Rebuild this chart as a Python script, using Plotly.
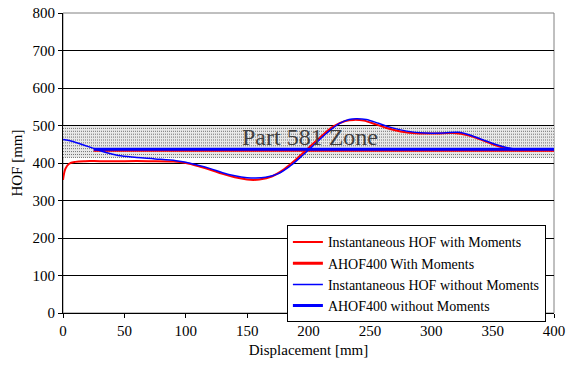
import plotly.graph_objects as go

# Instantaneous height-of-fall curves along the displacement axis
disp_with = [0, 2, 5, 10, 18, 30, 50, 70, 90, 100, 110, 120, 130, 140, 150, 155, 160, 170,
             180, 190, 200, 210, 220, 230, 237, 245, 255, 265, 275, 290, 305, 318, 330, 340,
             350, 360, 370, 380, 400]
hof_with = [355, 385, 398, 403, 405, 405, 405, 405, 404, 400, 392, 382, 371, 362, 356, 355, 356, 364,
            383, 410, 440, 470, 497, 512, 515, 513, 503, 492, 484, 479, 479, 480, 474, 463,
            450, 440, 435, 434, 434]

disp_without = [0, 5, 15, 25, 35, 45, 60, 75, 92, 100, 110, 120, 130, 140, 150, 157, 165, 175,
                185, 195, 205, 215, 225, 233, 239, 247, 257, 267, 280, 295, 310, 322, 332, 342,
                352, 362, 370, 380, 400]
hof_without = [463, 460, 450, 439, 428, 420, 415, 411, 406, 402, 394, 385, 374, 366, 361, 360, 362, 371,
               392, 420, 450, 480, 505, 516, 518, 516, 506, 495, 485, 480, 480, 482, 474, 462,
               450, 441, 437, 437, 437]

# AHOF400 averages, drawn over the averaging window
ahof_range = [25, 400]
ahof_with = 434
ahof_without = 437

# Part 581 zone limits and axis ticks
zone_low, zone_high = 415, 500
x_ticks = [0, 50, 100, 150, 200, 250, 300, 350, 400]
y_ticks = [0, 100, 200, 300, 400, 500, 600, 700, 800]

FONT = "Liberation Serif"

fig = go.Figure()

# zone hatch: light band with rows of dotted grey lines
shapes = [dict(type="rect", xref="x", yref="y", x0=0, x1=400, y0=zone_low, y1=zone_high,
               fillcolor="#e8e8e8", line=dict(width=0), layer="below")]
n_rows = 12
for i in range(n_rows):
    yv = zone_high - i * (zone_high - zone_low) / (n_rows - 1)
    shapes.append(dict(type="line", xref="x", yref="y", x0=0, x1=400, y0=yv, y1=yv,
                       line=dict(color="#707070", width=1, dash="1px,1px"), layer="below"))
# plot frame
shapes.append(dict(type="rect", xref="paper", yref="paper", x0=0, x1=1, y0=0, y1=1,
                   line=dict(color="#808080", width=1), layer="below"))

fig.add_trace(go.Scatter(x=disp_with, y=hof_with, mode="lines", line=dict(color="#ff0000", width=2, shape="spline"),
                         name="Instantaneous HOF with Moments"))
fig.add_trace(go.Scatter(x=ahof_range, y=[ahof_with] * 2, mode="lines", line=dict(color="#ff0000", width=3),
                         name="AHOF400 With Moments"))
fig.add_trace(go.Scatter(x=disp_without, y=hof_without, mode="lines", line=dict(color="#0000ff", width=1.5, shape="spline"),
                         name="Instantaneous HOF without Moments"))
fig.add_trace(go.Scatter(x=ahof_range, y=[ahof_without] * 2, mode="lines", line=dict(color="#0000ff", width=3),
                         name="AHOF400 without Moments"))

fig.add_annotation(x=201, y=470, xref="x", yref="y", text="Part 581 Zone", showarrow=False,
                   font=dict(family=FONT, size=24, color="#404040"))

fig.update_layout(
    width=568, height=366,
    margin=dict(l=63, r=14, t=13, b=53),
    paper_bgcolor="white", plot_bgcolor="rgba(0,0,0,0)",
    font=dict(family=FONT, size=15, color="black"),
    shapes=shapes,
    showlegend=True,
    legend=dict(x=0.456, y=0.292, xanchor="left", yanchor="top", bgcolor="white",
                bordercolor="black", borderwidth=1, font=dict(family=FONT, size=14, color="black"),
                itemwidth=30, tracegroupgap=0),
    xaxis=dict(range=[0, 400], tickvals=x_ticks, showgrid=False, zeroline=False, automargin=False,
               showline=True, linecolor="black", linewidth=1, ticks="outside", ticklen=4,
               tickcolor="black", tickfont=dict(family=FONT, size=15, color="black"),
               title=dict(text="Displacement [mm]", font=dict(family=FONT, size=15, color="black"), standoff=6)),
    yaxis=dict(range=[0, 800], tickvals=y_ticks, showgrid=True, gridcolor="black", gridwidth=1,
               zeroline=False, showline=True, linecolor="black", linewidth=1, ticks="outside", automargin=False,
               ticklen=4, tickcolor="black", tickfont=dict(family=FONT, size=15, color="black"),
               title=dict(text="HOF [mm]", font=dict(family=FONT, size=15, color="black"), standoff=6)),
)

fig.write_html("out.html")
